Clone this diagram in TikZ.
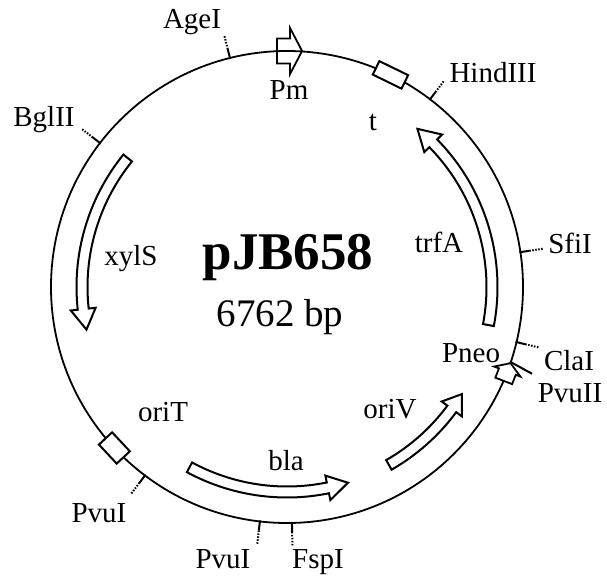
\documentclass[tikz,border=0pt]{standalone}
\usepackage{fontspec}
\setmainfont{Liberation Serif}
\newcommand{\genearc}[3]{%
  \draw[gene] (#1:210.5) arc[start angle=#1, end angle=#2, radius=210.5]
    -- (#2:217.5) -- (#3:205) -- (#2:192.5) -- (#2:199.5)
    arc[start angle=#2, end angle=#1, radius=199.5] -- cycle;}
\newcommand{\rsite}[1]{%
  \draw[sitesolid] (#1:235) -- (#1:245);
  \draw[sitedot] (#1:245) -- (#1:259);}
\begin{document}
\begin{tikzpicture}[x=1pt,y=1pt,
  lbl/.style={font=\fontsize{29}{29}\selectfont, anchor=base, inner sep=0pt},
  gene/.style={draw, line width=2pt, line join=miter, fill=white},
  plasmid/.style={draw, line width=1.8pt},
  sitesolid/.style={line width=2pt},
  sitedot/.style={line width=2pt, dash pattern=on 1.5pt off 1.5pt},
  sitebox/.style={draw, line width=2pt, fill=white, inner sep=0pt},
  promoter/.style={draw, line width=1.8pt, line join=miter}]
\useasboundingbox (0,0) rectangle (607,-583);
\fill[white] (0,0) rectangle (607,-583);
\coordinate (C) at (287,-287);
\begin{scope}[shift={(C)}]
  \draw[plasmid] (0,0) circle[radius=236];
  % restriction sites
  \rsite{104}
  \rsite{142.4}
  \rsite{52.7}
  \rsite{8.5}
  \rsite{-13.5}
  \rsite{263.4}
  \rsite{271.2}
  \rsite{233}
  \draw[sitesolid] (-18.5:235) -- (-19.5:260);
  % terminator boxes
  \node[sitebox, minimum width=32pt, minimum height=15pt, rotate=-26] (tbox) at (64:236) {};
  \node[sitebox, minimum width=26pt, minimum height=18pt, rotate=133] (oriTbox) at (223:236) {};
  % genes
  \genearc{141}{186.2}{192}
  \genearc{-10.7}{44.5}{50.5}
  \genearc{241.6}{281.5}{287.3}
  \genearc{-60.2}{-36.5}{-31.5}
  % promoters
  \draw[promoter, shift={(89.5:236)}] (-12,-12.5) -- (1,-12.5) -- (1,-23) -- (13,0) -- (1,23) -- (1,12.5) -- (-12,12.5) -- cycle;
  \draw[promoter, fill=white, shift={(-21:236)}, rotate=69] (-10,-9) -- (0,-9) -- (0,-14) -- (9,0) -- (0,14) -- (0,9) -- (-10,9) -- cycle;
\end{scope}
% labels
\node[lbl] (AgeI) at (192,-29) {AgeI};
\node[lbl] (Pm) at (289,-100) {Pm};
\node[lbl] (t) at (373,-131) {t};
\node[lbl] (HindIII) at (493,-83) {HindIII};
\node[lbl] (BglII) at (44,-126) {BglII};
\node[lbl] (xylS) at (131,-265) {xylS};
\node[lbl] (trfA) at (439,-252) {trfA};
\node[lbl] (SfiI) at (570,-253) {SfiI};
\node[lbl] (Pneo) at (471,-362) {Pneo};
\node[lbl] (ClaI) at (569,-370) {ClaI};
\node[lbl] (PvuII) at (570,-402) {PvuII};
\node[lbl] (oriT) at (163,-421) {oriT};
\node[lbl] (oriV) at (390,-418) {oriV};
\node[lbl] (bla) at (286,-470) {bla};
\node[lbl] (PvuIa) at (99,-522) {PvuI};
\node[lbl] (PvuIb) at (223,-568) {PvuI};
\node[lbl] (FspI) at (318,-568) {FspI};
\node[anchor=base, inner sep=0pt, font=\fontsize{53}{53}\selectfont\bfseries] (name) at (288,-269) {pJB658};
\node[anchor=base, inner sep=0pt, font=\fontsize{39}{39}\selectfont] (size) at (280,-326) {6762 bp};
\end{tikzpicture}
\end{document}
